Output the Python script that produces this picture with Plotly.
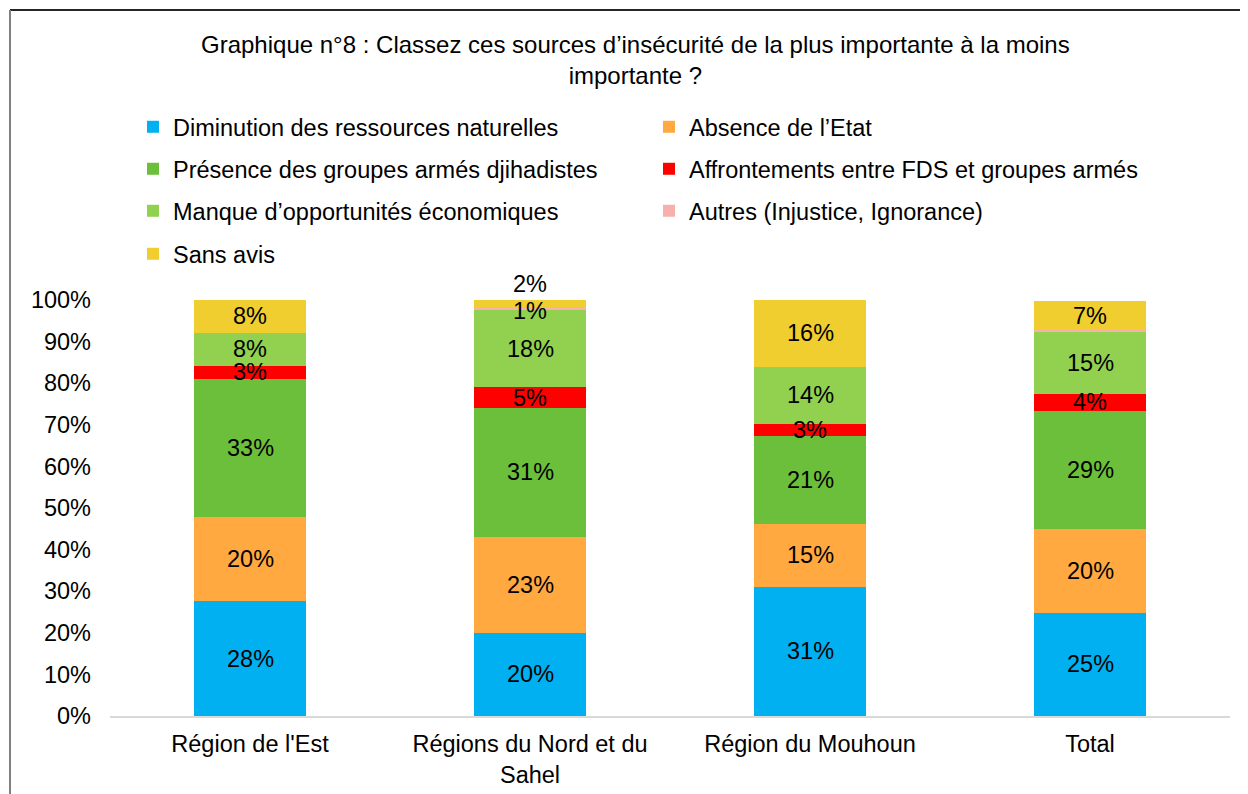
import plotly.graph_objects as go

categories = ["Région de l'Est", "Régions du Nord et du<br>Sahel", "Région du Mouhoun", "Total"]

series_names = [
    "Diminution des ressources naturelles",
    "Absence de l’Etat",
    "Présence des groupes armés djihadistes",
    "Affrontements entre FDS et groupes armés",
    "Manque d’opportunités économiques",
    "Autres (Injustice, Ignorance)",
    "Sans avis",
]
colors = ["#00B0F0", "#FFA940", "#6CBF3A", "#FF0000", "#92D050", "#F8B0AE", "#F0CE30"]

diminution = [27.6, 20.0, 31.1, 24.8]
absence = [20.2, 23.1, 15.1, 20.2]
presence = [33.2, 31.0, 21.2, 28.4]
affrontements = [3.2, 4.9, 2.9, 4.1]
manque = [7.9, 18.5, 13.7, 14.7]
autres = [0.0, 0.7, 0.0, 0.5]
sans_avis = [7.9, 1.7, 16.0, 7.1]

labels_diminution = ["28%", "20%", "31%", "25%"]
labels_absence = ["20%", "23%", "15%", "20%"]
labels_presence = ["33%", "31%", "21%", "29%"]
labels_affrontements = ["3%", "5%", "3%", "4%"]
labels_manque = ["8%", "18%", "14%", "15%"]
labels_autres = ["", "1%", "", ""]
labels_sans_avis = ["8%", "2%", "16%", "7%"]

values = [diminution, absence, presence, affrontements, manque, autres, sans_avis]
labels = [labels_diminution, labels_absence, labels_presence, labels_affrontements,
          labels_manque, labels_autres, labels_sans_avis]
# legend row assignment
legend_ids = ["legend", "legend", "legend2", "legend2", "legend3", "legend3", "legend4"]

FONT = "Liberation Sans, Arial, sans-serif"
FS = 23.5

fig = go.Figure()
for name, vals, col, lg in zip(series_names, values, colors, legend_ids):
    fig.add_trace(go.Bar(
        x=categories, y=[v / 100 for v in vals], name=name,
        marker=dict(color=col, line=dict(width=0)),
        width=0.4, legend=lg,
    ))

annotations = []
cum = [0.0] * len(categories)
for si, (vals, labs) in enumerate(zip(values, labels)):
    for ci, cat in enumerate(categories):
        mid = (cum[ci] + vals[ci] / 2) / 100
        if labs[ci]:
            yshift = 0
            if si == 6 and ci == 1:
                yshift = 20
            elif si == 5 and ci == 1:
                yshift = -2
            annotations.append(dict(
                x=cat, y=mid, xref="x", yref="y", text=labs[ci], showarrow=False,
                font=dict(family=FONT, size=FS, color="#000000"),
                yshift=yshift,
            ))
        cum[ci] += vals[ci]

annotations.append(dict(
    text="Graphique n°8 : Classez ces sources d’insécurité de la plus importante à la moins<br>importante ?",
    xref="paper", yref="paper", x=(635 - 110) / 1120, y=(716 - 60) / 416,
    xanchor="center", yanchor="middle", showarrow=False,
    font=dict(family=FONT, size=24, color="#000000"),
))

def legend_cfg(ypx):
    return dict(
        orientation="h", x=(133 - 110) / 1120, y=(716 - ypx) / 416,
        xanchor="left", yanchor="middle",
        font=dict(family=FONT, size=FS, color="#000000"),
        entrywidth=471, entrywidthmode="pixels",
        bgcolor="rgba(0,0,0,0)", traceorder="normal",
    )

fig.update_layout(
    width=1240, height=786,
    margin=dict(l=102, r=18, t=292, b=78, autoexpand=False),
    paper_bgcolor="white", plot_bgcolor="white",
    barmode="stack",
    showlegend=True,
    legend=legend_cfg(127),
    legend2=legend_cfg(169),
    legend3=legend_cfg(211),
    legend4=legend_cfg(254),
    annotations=annotations,
    xaxis=dict(
        showgrid=False, showline=True, linecolor="#D9D9D9", linewidth=2,
        ticks="", tickfont=dict(family=FONT, size=FS, color="#000000"),
        range=[-0.5, 3.5], ticklabelstandoff=6, automargin=False,
    ),
    yaxis=dict(
        range=[0, 1], tickvals=[i / 10 for i in range(11)],
        ticktext=[f"{i * 10}%" for i in range(11)],
        showgrid=False, showline=False, zeroline=False, ticks="",
        tickfont=dict(family=FONT, size=FS, color="#000000"),
        ticklabelstandoff=18, automargin=False,
    ),
    shapes=[
        dict(type="line", xref="paper", yref="paper",
             x0=(10 - 110) / 1120, x1=(1260 - 110) / 1120,
             y0=(716 - 10) / 416, y1=(716 - 10) / 416,
             line=dict(color="#262626", width=2)),
        dict(type="line", xref="paper", yref="paper",
             x0=(10 - 110) / 1120, x1=(10 - 110) / 1120,
             y0=(716 - 10) / 416, y1=(716 - 800) / 416,
             line=dict(color="#808080", width=2)),
    ],
)

fig.write_html("out.html")
